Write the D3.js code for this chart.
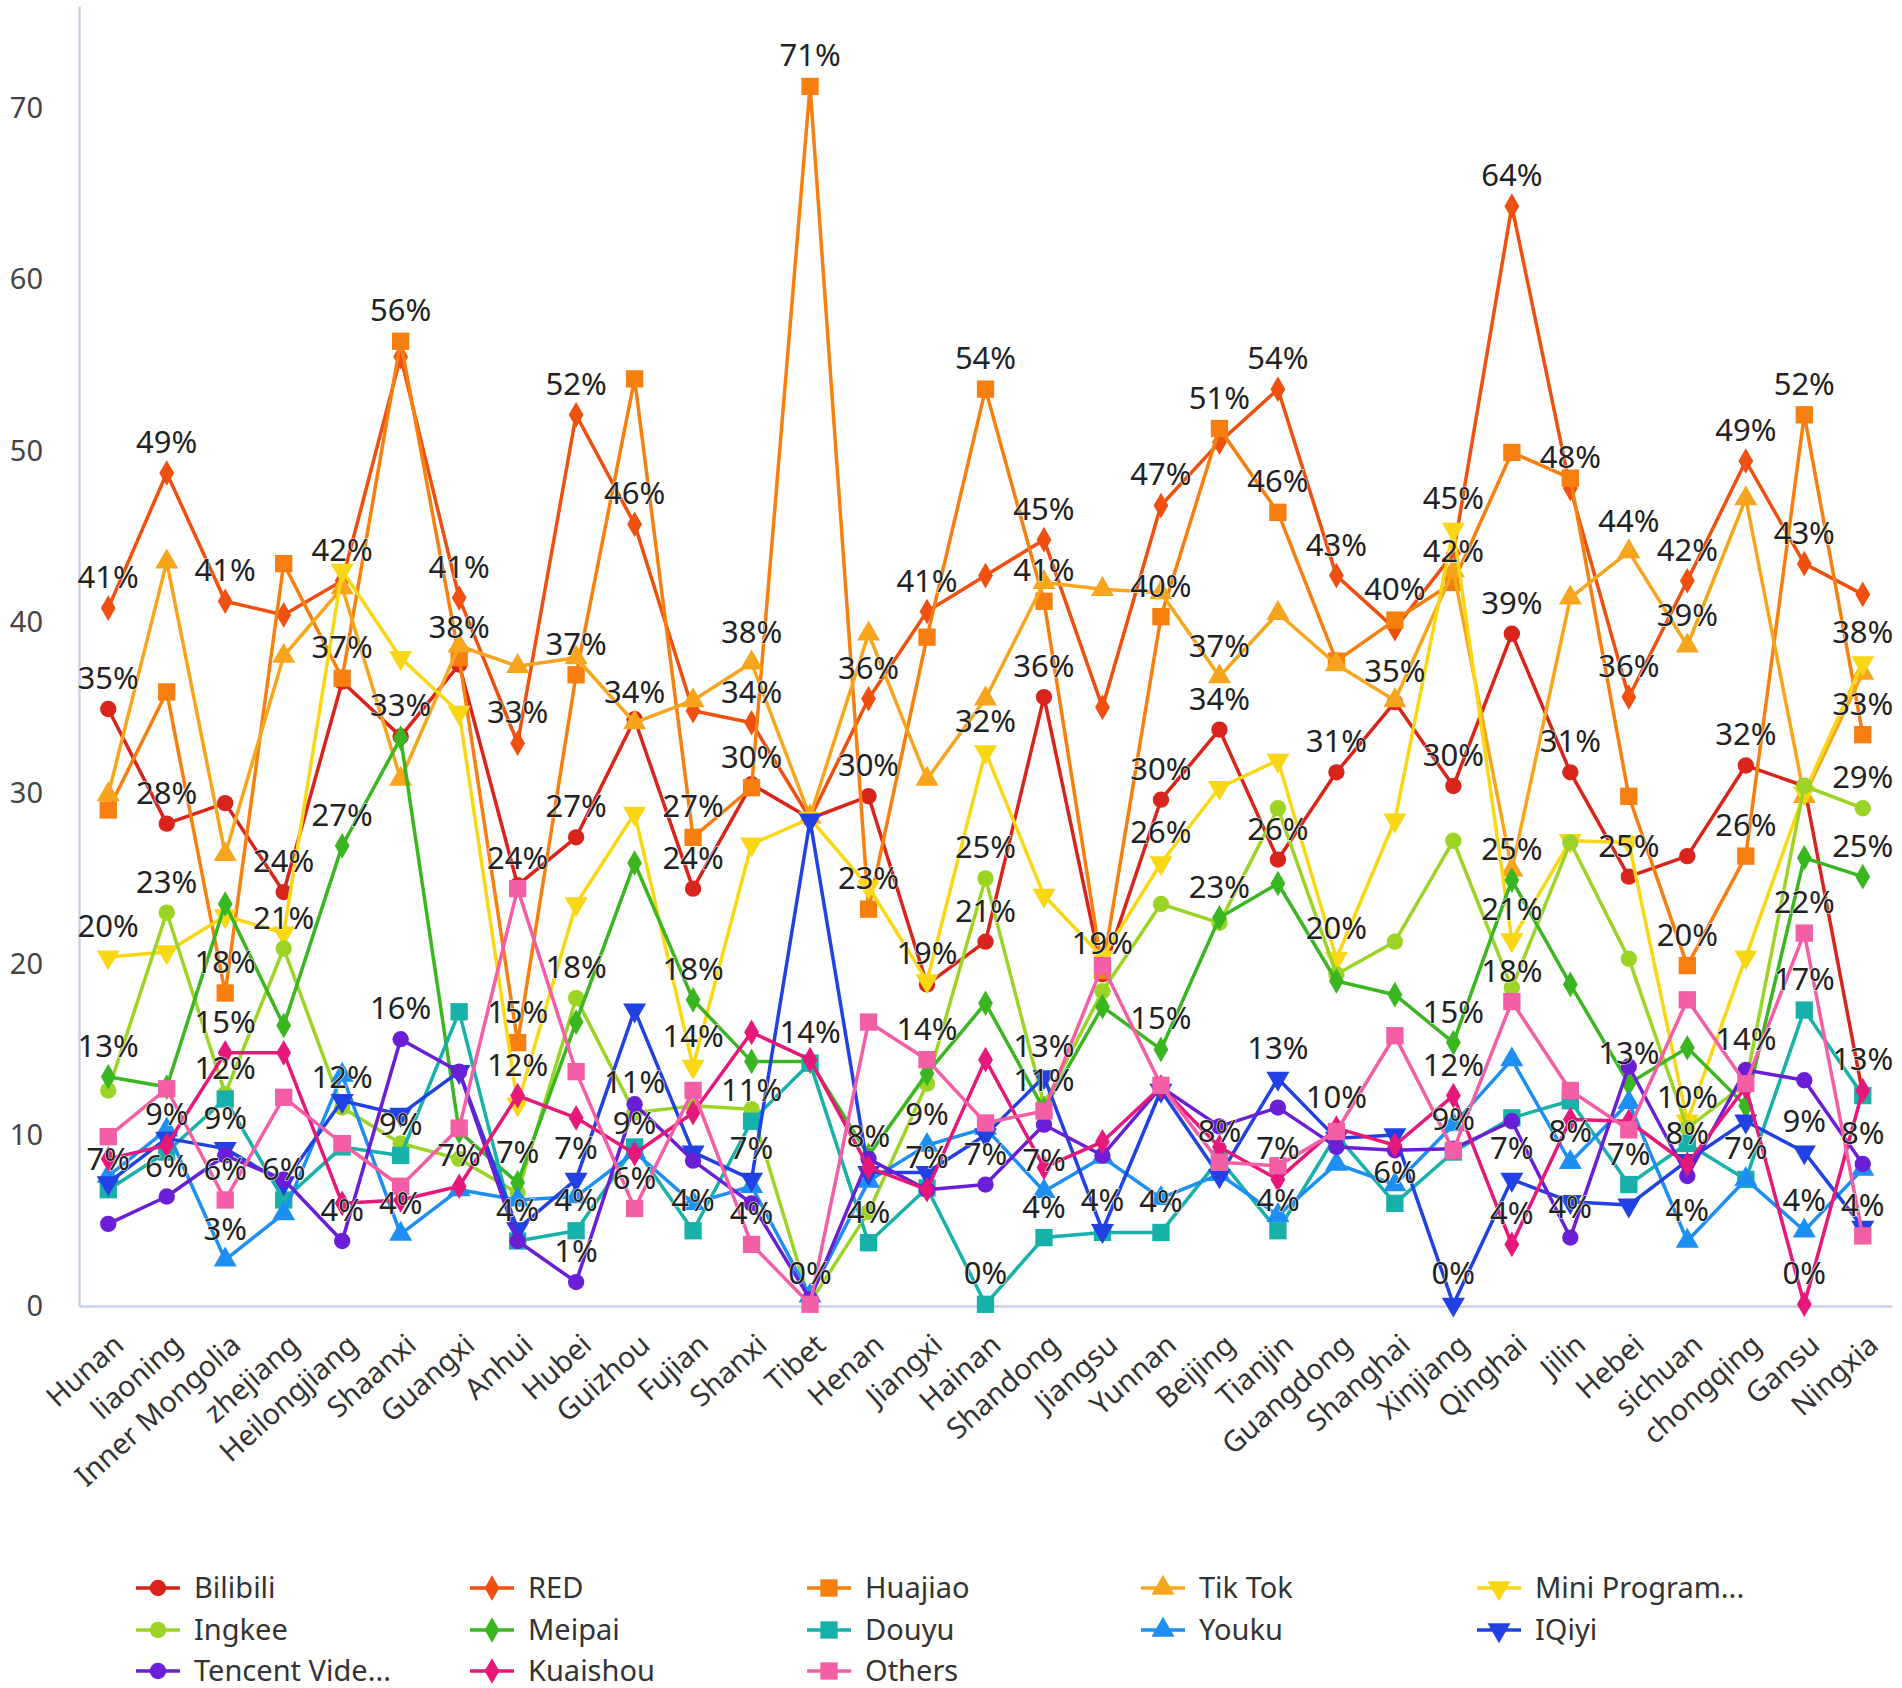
<!DOCTYPE html>
<html>
<head>
<meta charset="utf-8">
<script src="https://cdn.jsdelivr.net/npm/d3@7"></script>
<style>
  body { margin: 0; background: #fff; }
  svg text { font-family: "Noto Sans", "Open Sans", sans-serif; }
</style>
</head>
<body>
<div id="chart"></div>
<script>
// provinces on the x axis
const provinces = ["Hunan", "liaoning", "Inner Mongolia", "zhejiang", "Heilongjiang", "Shaanxi", "Guangxi",
  "Anhui", "Hubei", "Guizhou", "Fujian", "Shanxi", "Tibet", "Henan", "Jiangxi", "Hainan", "Shandong",
  "Jiangsu", "Yunnan", "Beijing", "Tianjin", "Guangdong", "Shanghai", "Xinjiang", "Qinghai", "Jilin",
  "Hebei", "sichuan", "chongqing", "Gansu", "Ningxia"];

const yTicks = [0, 10, 20, 30, 40, 50, 60, 70];

// one array per platform (percent)
const bilibili = [34.9, 28.2, 29.4, 24.2, 36.5, 33.3, 37.5, 24.6, 27.4, 34.3, 24.4, 30.5, 28.5, 29.8, 18.8, 21.3,
  35.6, 19.4, 29.6, 33.7, 26.1, 31.2, 35.3, 30.4, 39.3, 31.2, 25.1, 26.3, 31.6, 30.4, 12.4];
const red = [40.8, 48.7, 41.2, 40.4, 42.4, 55.5, 41.4, 32.9, 52.1, 45.7, 34.8, 34.1, 28.5, 35.5, 40.6, 42.7,
  44.8, 35.0, 46.8, 50.5, 53.6, 42.7, 39.6, 44.0, 64.3, 47.8, 35.6, 42.4, 49.4, 43.4, 41.6];
const huajiao = [29.0, 35.9, 18.3, 43.4, 36.7, 56.4, 37.9, 15.4, 36.9, 54.2, 27.4, 30.3, 71.3, 23.2, 39.1, 53.6,
  41.2, 19.6, 40.3, 51.3, 46.4, 37.7, 40.1, 42.3, 49.9, 48.4, 29.8, 19.9, 26.3, 52.1, 33.4];
const tiktok = [29.9, 43.5, 26.4, 38.0, 42.0, 30.8, 38.6, 37.4, 37.9, 34.1, 35.4, 37.6, 28.6, 39.3, 30.8, 35.5,
  42.3, 41.9, 41.7, 36.8, 40.5, 37.5, 35.4, 43.0, 25.5, 41.4, 44.1, 38.6, 47.2, 29.8, 37.0];
const miniProgram = [20.4, 20.7, 22.8, 21.8, 43.0, 37.9, 34.7, 11.8, 23.5, 28.8, 14.0, 27.0, 28.5, 24.5, 19.0, 32.4,
  24.0, 20.4, 25.9, 30.3, 31.9, 20.3, 28.4, 45.4, 21.4, 27.2, 27.1, 10.8, 20.4, 30.0, 37.6];
const ingkee = [12.6, 23.0, 12.4, 20.9, 11.6, 9.5, 8.6, 6.6, 18.0, 11.3, 11.7, 11.5, 0.2, 5.5, 13.0, 25.0,
  11.8, 18.4, 23.5, 22.4, 29.1, 19.4, 21.3, 27.2, 18.6, 27.1, 20.3, 10.4, 13.0, 30.4, 29.1];
const meipai = [13.4, 12.8, 23.5, 16.4, 26.9, 33.2, 10.2, 7.2, 16.6, 25.9, 17.9, 14.3, 14.3, 8.8, 13.6, 17.7,
  11.5, 17.5, 15.0, 22.7, 24.7, 19.0, 18.2, 15.4, 24.9, 18.8, 13.0, 15.1, 11.7, 26.2, 25.1];
const douyu = [6.8, 9.0, 12.1, 6.2, 9.3, 8.8, 17.2, 3.8, 4.4, 9.3, 4.4, 10.8, 14.2, 3.7, 6.9, 0.1,
  4.0, 4.3, 4.3, 8.6, 4.4, 10.0, 6.0, 9.0, 11.0, 12.0, 7.1, 9.5, 7.4, 17.3, 12.3];
const youku = [7.6, 10.3, 2.7, 5.4, 13.5, 4.2, 6.8, 6.2, 6.4, 9.0, 6.0, 7.0, 0.6, 7.3, 9.4, 10.4,
  6.7, 8.7, 6.3, 7.7, 5.3, 8.3, 7.1, 10.6, 14.4, 8.4, 11.9, 3.8, 7.4, 4.4, 8.0];
const iqiyi = [7.2, 9.8, 9.2, 7.2, 12.0, 11.2, 13.7, 4.5, 7.4, 17.3, 9.0, 7.4, 28.4, 7.8, 7.8, 10.0,
  13.4, 4.4, 12.6, 7.6, 13.3, 9.8, 10.0, 0.1, 7.4, 6.1, 5.9, 8.5, 10.8, 9.0, 4.6];
const tencent = [4.8, 6.4, 8.8, 7.4, 3.8, 15.6, 13.7, 3.8, 1.4, 11.8, 8.5, 6.0, 0.4, 8.6, 6.8, 7.1,
  10.6, 8.8, 12.8, 10.5, 11.6, 9.3, 9.1, 9.2, 10.8, 4.0, 14.0, 7.6, 13.8, 13.2, 8.3];
const kuaishou = [8.6, 9.4, 14.8, 14.8, 6.0, 6.2, 7.0, 12.3, 11.0, 8.9, 11.3, 16.0, 14.4, 8.1, 6.8, 14.4,
  8.1, 9.6, 12.8, 9.3, 7.4, 10.4, 9.4, 12.3, 3.6, 10.9, 10.8, 8.3, 12.8, 0.1, 12.6];
const others = [9.9, 12.7, 6.2, 12.2, 9.5, 7.0, 10.4, 24.4, 13.7, 5.7, 12.6, 3.6, 0.1, 16.6, 14.4, 10.7,
  11.4, 19.9, 12.9, 8.4, 8.2, 10.2, 15.8, 9.1, 17.8, 12.6, 10.3, 17.9, 13.0, 21.8, 4.1];

const seriesNames = ["Bilibili", "RED", "Huajiao", "Tik Tok", "Mini Program", "Ingkee", "Meipai",
  "Douyu", "Youku", "IQiyi", "Tencent Video", "Kuaishou", "Others"];
const seriesValues = [bilibili, red, huajiao, tiktok, miniProgram, ingkee, meipai,
  douyu, youku, iqiyi, tencent, kuaishou, others];
const legendNames = ["Bilibili", "RED", "Huajiao", "Tik Tok", "Mini Program...", "Ingkee", "Meipai",
  "Douyu", "Youku", "IQiyi", "Tencent Vide...", "Kuaishou", "Others"];

// points that carry a value label: [province index, series index]
const labelled = [
  [0, 1], [0, 0], [0, 4], [0, 6], [0, 7],
  [1, 1], [1, 0], [1, 5], [1, 11], [1, 10],
  [2, 1], [2, 2], [2, 11], [2, 7], [2, 9], [2, 12], [2, 8],
  [3, 0], [3, 5], [3, 7],
  [4, 1], [4, 2], [4, 6], [4, 5], [4, 10],
  [5, 2], [5, 0], [5, 10], [5, 7], [5, 8],
  [6, 1], [6, 2], [6, 11],
  [7, 1], [7, 12], [7, 2], [7, 11], [7, 6], [7, 10],
  [8, 1], [8, 2], [8, 0], [8, 5], [8, 9], [8, 7], [8, 10],
  [9, 1], [9, 3], [9, 5], [9, 11], [9, 12],
  [10, 2], [10, 0], [10, 6], [10, 4], [10, 7],
  [11, 3], [11, 1], [11, 2], [11, 7], [11, 9], [11, 12],
  [12, 2], [12, 7], [12, 12],
  [13, 1], [13, 0], [13, 2], [13, 11], [13, 7],
  [14, 1], [14, 0], [14, 12], [14, 8], [14, 7],
  [15, 2], [15, 4], [15, 5], [15, 0], [15, 10], [15, 7],
  [16, 1], [16, 2], [16, 0], [16, 9], [16, 12], [16, 8], [16, 7],
  [17, 0], [17, 9],
  [18, 1], [18, 2], [18, 0], [18, 4], [18, 6], [18, 7],
  [19, 2], [19, 3], [19, 0], [19, 6], [19, 12],
  [20, 1], [20, 2], [20, 0], [20, 9], [20, 11], [20, 7],
  [21, 1], [21, 0], [21, 4], [21, 11],
  [22, 2], [22, 0], [22, 7],
  [23, 4], [23, 2], [23, 0], [23, 6], [23, 11], [23, 12], [23, 9],
  [24, 1], [24, 0], [24, 6], [24, 4], [24, 12], [24, 9], [24, 11],
  [25, 1], [25, 0], [25, 8], [25, 10],
  [26, 3], [26, 1], [26, 0], [26, 6], [26, 7],
  [27, 1], [27, 3], [27, 2], [27, 5], [27, 11], [27, 8],
  [28, 1], [28, 0], [28, 2], [28, 10], [28, 7],
  [29, 2], [29, 1], [29, 12], [29, 7], [29, 9], [29, 8], [29, 11],
  [30, 4], [30, 2], [30, 5], [30, 6], [30, 11], [30, 10], [30, 12]
];

// colour and marker per series
const colors = ["#d9241c", "#f0500f", "#f67f0f", "#f7a51d", "#fad714", "#9bd424", "#3ab620",
  "#17b1a9", "#1e8ff2", "#2141e2", "#6a1fd6", "#e6197b", "#f35ea5"];
const shapes = [d3.symbolCircle, d3.symbolDiamond, d3.symbolSquare, d3.symbolTriangle, "down",
  d3.symbolCircle, d3.symbolDiamond, d3.symbolSquare, d3.symbolTriangle, "down",
  d3.symbolCircle, d3.symbolDiamond, d3.symbolSquare];

const width = 1902, height = 1688;
const svg = d3.select("#chart").append("svg")
  .attr("width", width)
  .attr("height", height);

svg.append("rect").attr("width", width).attr("height", height).attr("fill", "#fff");

const x = d3.scalePoint().domain(provinces).range([79, 1892]).padding(0.5);
const y = d3.scaleLinear().domain([0, 76]).range([1306, 6]);

// axes
const yAxis = svg.append("g")
  .attr("transform", "translate(79,0)")
  .call(d3.axisLeft(y).tickValues(yTicks).tickSize(0).tickSizeOuter(0).tickPadding(36));
yAxis.select(".domain").attr("stroke", "#c9cfe8").attr("stroke-width", 2.5);
yAxis.selectAll("text").attr("font-size", 29).attr("fill", "#444");

const xAxis = svg.append("g")
  .attr("transform", "translate(0,1306)")
  .call(d3.axisBottom(x).tickSize(0).tickSizeOuter(0));
xAxis.select(".domain").attr("stroke", "#c9cfe8").attr("stroke-width", 2.5);
xAxis.selectAll("text")
  .attr("font-size", 29)
  .attr("fill", "#333")
  .attr("x", 0).attr("y", 0).attr("dy", "0.35em")
  .attr("text-anchor", "end")
  .attr("transform", "translate(10,34) rotate(-42)");

function marker(i, size) {
  const s = shapes[i];
  if (s === "down") return d3.symbol(d3.symbolTriangle, size)();
  return d3.symbol(s, size)();
}
function markerSize(i) {
  const s = shapes[i];
  if (s === d3.symbolCircle) return 210;
  if (s === d3.symbolSquare) return 300;
  if (s === d3.symbolDiamond) return 190;
  return 230;
}

const line = d3.line()
  .x((d, j) => x(provinces[j]))
  .y(d => y(d));

// lines and markers
seriesValues.forEach((vals, i) => {
  const g = svg.append("g");
  g.append("path")
    .datum(vals)
    .attr("d", line)
    .attr("fill", "none")
    .attr("stroke", colors[i])
    .attr("stroke-width", 3.5)
    .attr("stroke-linejoin", "round");
  g.selectAll("path.mk")
    .data(vals)
    .join("path")
    .attr("class", "mk")
    .attr("d", marker(i, markerSize(i)))
    .attr("fill", colors[i])
    .attr("transform", (d, j) => `translate(${x(provinces[j])},${y(d)})` + (shapes[i] === "down" ? " rotate(180)" : ""));
});

// value labels
svg.append("g")
  .selectAll("text")
  .data(labelled)
  .join("text")
  .attr("x", d => x(provinces[d[0]]))
  .attr("y", d => y(seriesValues[d[1]][d[0]]) - 20)
  .attr("text-anchor", "middle")
  .attr("font-size", 31)
  .attr("fill", "#222")
  .attr("stroke", "#fff")
  .attr("stroke-width", 1)
  .attr("paint-order", "stroke")
  .text(d => Math.round(seriesValues[d[1]][d[0]]) + "%");

// legend
const legendCols = [158, 492, 829, 1163, 1499];
const legendRows = [1588, 1630, 1671];
const legend = svg.append("g")
  .selectAll("g")
  .data(legendNames)
  .join("g")
  .attr("transform", (d, i) => `translate(${legendCols[i % 5]},${legendRows[Math.floor(i / 5)]})`);
legend.append("line")
  .attr("x1", -22).attr("x2", 22)
  .attr("stroke", (d, i) => colors[i])
  .attr("stroke-width", 3.5);
legend.append("path")
  .attr("d", (d, i) => marker(i, markerSize(i)))
  .attr("fill", (d, i) => colors[i])
  .attr("transform", (d, i) => shapes[i] === "down" ? "rotate(180)" : null);
legend.append("text")
  .attr("x", 36)
  .attr("dy", "0.35em")
  .attr("font-size", 29)
  .attr("fill", "#333")
  .text(d => d);
</script>
</body>
</html>
